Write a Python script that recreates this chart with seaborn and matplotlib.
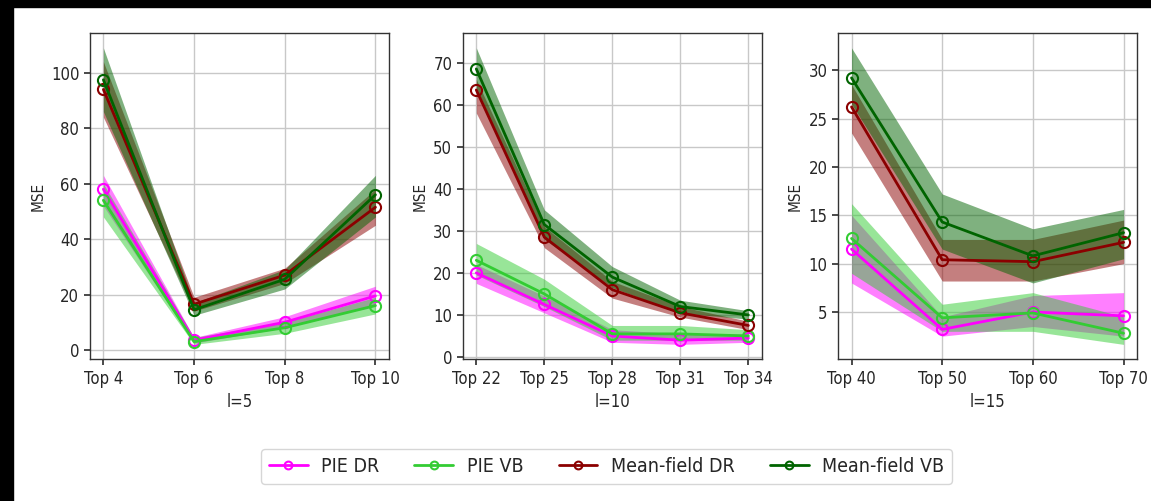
import pandas as pd
import matplotlib
matplotlib.use("Agg")
import matplotlib.pyplot as plt
import seaborn as sns
from matplotlib.patches import Rectangle

# ---------------------------------------------------------------------------
# data
# ---------------------------------------------------------------------------
series_names = ["PIE DR", "PIE VB", "Mean-field DR", "Mean-field VB"]

ticks_l5 = ["Top 4", "Top 6", "Top 8", "Top 10"]
ticks_l10 = ["Top 22", "Top 25", "Top 28", "Top 31", "Top 34"]
ticks_l15 = ["Top 40", "Top 50", "Top 60", "Top 70"]

# l=5
pie_dr_l5 = [58, 3.5, 10, 19.5]
pie_dr_l5_lo = [52, 2.5, 8, 16]
pie_dr_l5_hi = [63, 4.5, 12, 23]
pie_vb_l5 = [54, 3, 8, 16]
pie_vb_l5_lo = [48, 2, 6, 13]
pie_vb_l5_hi = [60, 4.5, 10, 19]
mf_dr_l5 = [94, 16.5, 27, 51.5]
mf_dr_l5_lo = [84, 14, 24, 45]
mf_dr_l5_hi = [104, 19, 29.5, 58]
mf_vb_l5 = [97.5, 14.5, 25.5, 56]
mf_vb_l5_lo = [86, 12.5, 22, 48]
mf_vb_l5_hi = [109, 17, 29, 63]

# l=10
pie_dr_l10 = [20, 12.5, 5, 4, 4.5]
pie_dr_l10_lo = [17.5, 10.5, 3.5, 3, 3.5]
pie_dr_l10_hi = [22, 14.5, 6.5, 5.5, 5.5]
pie_vb_l10 = [23, 15, 5.5, 5.5, 5]
pie_vb_l10_lo = [19.5, 12, 4, 4, 4]
pie_vb_l10_hi = [27, 18.5, 7.5, 7.5, 6.5]
mf_dr_l10 = [63.5, 28.5, 16, 10.5, 7.5]
mf_dr_l10_lo = [58, 26, 14, 9.5, 6.5]
mf_dr_l10_hi = [66, 31, 18, 12, 8.5]
mf_vb_l10 = [68.5, 31.5, 19, 12, 10]
mf_vb_l10_lo = [64, 28, 16.5, 10.5, 9]
mf_vb_l10_hi = [73.5, 35, 21.5, 13.5, 11]

# l=15
pie_dr_l15 = [11.5, 3.2, 5, 4.6]
pie_dr_l15_lo = [8, 2.5, 3.5, 2.5]
pie_dr_l15_hi = [15, 4.5, 6.7, 7]
pie_vb_l15 = [12.6, 4.4, 4.9, 2.8]
pie_vb_l15_lo = [9, 3, 3, 1.65]
pie_vb_l15_hi = [16.2, 5.8, 7, 4.5]
mf_dr_l15 = [26.2, 10.4, 10.2, 12.2]
mf_dr_l15_lo = [23.5, 8.2, 8.2, 10]
mf_dr_l15_hi = [28.5, 12.5, 12.5, 14.5]
mf_vb_l15 = [29.2, 14.3, 10.8, 13.2]
mf_vb_l15_lo = [26.5, 11.5, 8, 10.5]
mf_vb_l15_hi = [32.3, 17.2, 13.6, 15.6]

# ---------------------------------------------------------------------------
# style
# ---------------------------------------------------------------------------
sns.set_theme(style="ticks")
plt.rcParams['font.family'] = ['DejaVu Sans']
plt.rcParams['font.stretch'] = 'condensed'

COLORS = {
    "PIE DR": "#ff00ff",
    "PIE VB": "#33cc33",
    "Mean-field DR": "#8b0000",
    "Mean-field VB": "#006400",
}

panels = [
    ("l=5", ticks_l5, [
        (pie_dr_l5, pie_dr_l5_lo, pie_dr_l5_hi),
        (pie_vb_l5, pie_vb_l5_lo, pie_vb_l5_hi),
        (mf_dr_l5, mf_dr_l5_lo, mf_dr_l5_hi),
        (mf_vb_l5, mf_vb_l5_lo, mf_vb_l5_hi)]),
    ("l=10", ticks_l10, [
        (pie_dr_l10, pie_dr_l10_lo, pie_dr_l10_hi),
        (pie_vb_l10, pie_vb_l10_lo, pie_vb_l10_hi),
        (mf_dr_l10, mf_dr_l10_lo, mf_dr_l10_hi),
        (mf_vb_l10, mf_vb_l10_lo, mf_vb_l10_hi)]),
    ("l=15", ticks_l15, [
        (pie_dr_l15, pie_dr_l15_lo, pie_dr_l15_hi),
        (pie_vb_l15, pie_vb_l15_lo, pie_vb_l15_hi),
        (mf_dr_l15, mf_dr_l15_lo, mf_dr_l15_hi),
        (mf_vb_l15, mf_vb_l15_lo, mf_vb_l15_hi)]),
]

fig = plt.figure(figsize=(11.51, 5.01), dpi=100)
lefts = [0.078, 0.402, 0.728]
width = 0.260
bottom, top = 0.283, 0.934

for (xlabel, ticklabels, rows), left in zip(panels, lefts):
    ax = fig.add_axes([left, bottom, width, top - bottom])
    pos = list(range(len(ticklabels)))
    for name, (mean, lo, hi) in zip(series_names, rows):
        c = COLORS[name]
        df = pd.DataFrame({"x": pos, "y": mean})
        ax.fill_between(pos, lo, hi, color=c, alpha=0.5, linewidth=0)
        sns.lineplot(data=df, x="x", y="y", ax=ax, color=c, linewidth=2,
                     marker="o", markersize=8, markerfacecolor="none",
                     markeredgecolor=c, markeredgewidth=1.5, label=name)
    ax.set_xticks(pos)
    ax.set_xticklabels(ticklabels)
    ax.set_xlabel(xlabel, fontsize=12)
    ax.set_ylabel("MSE", fontsize=11)
    ax.tick_params(labelsize=12, length=4, color="#333333")
    ax.grid(True, color="#c8c8c8", linewidth=1)
    for s in ax.spines.values():
        s.set_color("#333333")
        s.set_linewidth(1)
    ax.get_legend().remove()
    handles, labels = ax.get_legend_handles_labels()

fig.legend(handles, labels, loc="center", bbox_to_anchor=(0.527, 0.069),
           ncol=4, fontsize=14, frameon=True, handlelength=2.0,
           markerscale=0.7, columnspacing=1.8, handletextpad=0.7,
           fancybox=True, edgecolor="#cccccc")

# black frame remains on the top and left edges of the reference
fig.patches.append(Rectangle((0, 0.986), 1, 0.014, transform=fig.transFigure,
                             color="black", zorder=10))
fig.patches.append(Rectangle((0, 0), 0.0113, 1, transform=fig.transFigure,
                             color="black", zorder=10))

fig.savefig("out.png", dpi=100)
